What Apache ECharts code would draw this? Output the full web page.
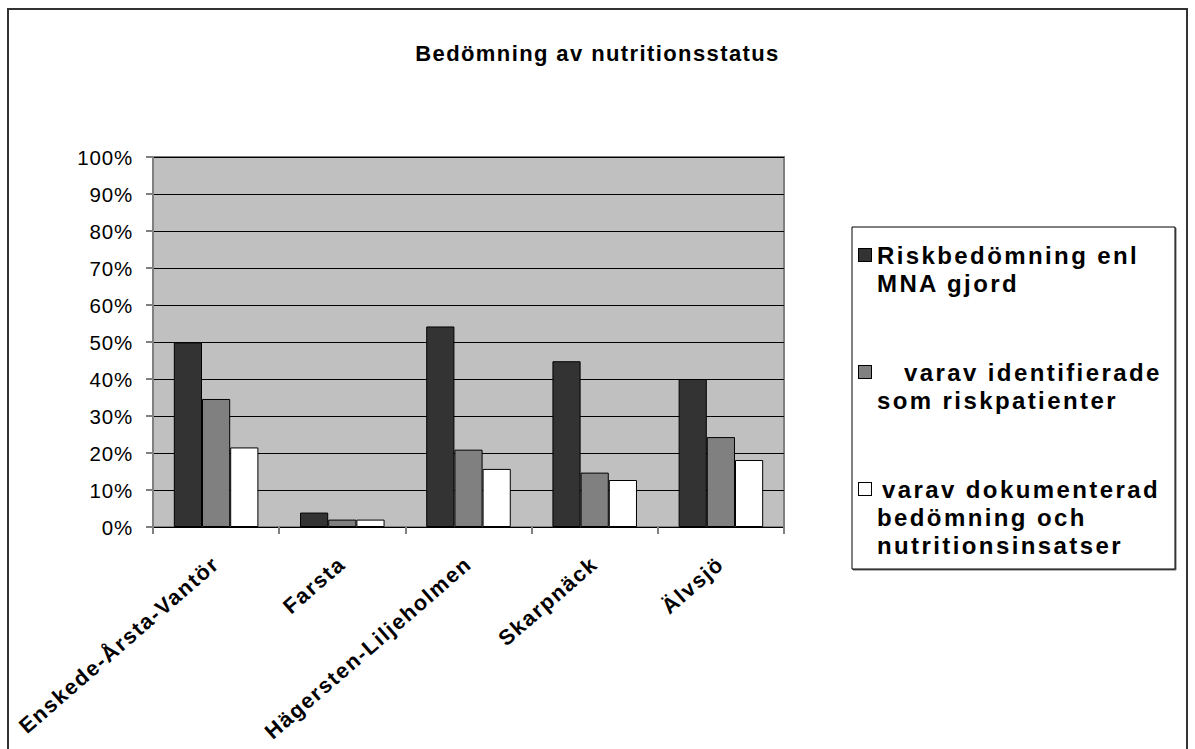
<!DOCTYPE html>
<html>
<head>
<meta charset="utf-8">
<title>Bedömning av nutritionsstatus</title>
<script src="https://cdn.jsdelivr.net/npm/echarts@6/dist/echarts.min.js"></script>
<style>
  html, body { margin: 0; padding: 0; background: #ffffff; }
  #chart { width: 1195px; height: 749px; }
  /* slightly wider tracking for the title, legend and axis labels */
  #chart text[style*="22px"] { letter-spacing: 1.4px; }
  #chart text[style*="24px"] { letter-spacing: 2.4px; }
  #chart text[style*="21.5px"] { letter-spacing: 1.6px; }
  #chart text[style*="20.5px"] { letter-spacing: 0.8px; }
</style>
</head>
<body>
<div id="chart"></div>
<script>
// Stadsdelar (x axis)
const categories = ['Enskede-Årsta-Vantör', 'Farsta', 'Hägersten-Liljeholmen', 'Skarpnäck', 'Älvsjö'];

// Andel i procent per stadsdel
const riskbedomning = [49.9, 3.9, 54.2, 44.8, 40.0];
const identifierade = [34.6, 2.0, 20.9, 14.7, 24.3];
const dokumenterad = [21.5, 2.0, 15.7, 12.7, 18.1];

// Series names and how they are broken into lines in the legend
const seriesNames = [
  'Riskbedömning enl MNA gjord',
  'varav identifierade som riskpatienter',
  'varav dokumenterad bedömning och nutritionsinsatser'
];
const legendLines = [
  ['Riskbedömning enl', 'MNA gjord'],
  ['varav identifierade', 'som riskpatienter'],
  ['varav dokumenterad', 'bedömning och', 'nutritionsinsatser']
];

// Y axis ticks
const yMin = 0, yMax = 100, yStep = 10;

const barColors = ['#333333', '#808080', '#ffffff'];
const firstLineIndent = [6, 33, 11];
const FONT = 'Arial, "Liberation Sans", sans-serif';

const chart = echarts.init(document.getElementById('chart'), null, { renderer: 'svg' });

function legendText(name) {
  const i = seriesNames.indexOf(name);
  return legendLines[i].map(function (line, k) {
    if (k === 0) return '{m' + i + '|}{g' + i + '|}' + line;
    return '{s|}' + line;
  }).join('\n');
}

const rich = { s: { width: 18, height: 13, lineHeight: 28 } };
barColors.forEach(function (c, i) {
  rich['m' + i] = { width: 12, height: 12, lineHeight: 28, backgroundColor: c, borderColor: '#000', borderWidth: 1 };
  rich['g' + i] = { width: firstLineIndent[i], height: 13, lineHeight: 28 };
});

const dataSets = [riskbedomning, identifierade, dokumenterad];

chart.setOption({
  animation: false,
  backgroundColor: '#ffffff',
  title: {
    text: 'Bedömning av nutritionsstatus',
    left: 'center',
    top: 42,
    padding: 0,
    textStyle: { fontFamily: FONT, fontSize: 22, fontWeight: 'bold', color: '#000' }
  },
  graphic: [
    {
      type: 'rect',
      shape: { x: 8, y: 9, width: 1179, height: 760 },
      style: { fill: 'none', stroke: '#333333', lineWidth: 2 },
      silent: true
    },
    {
      type: 'rect',
      shape: { x: 852, y: 227, width: 323, height: 342 },
      style: { fill: '#ffffff', stroke: '#000000', lineWidth: 1, shadowColor: 'rgba(0,0,0,0.6)', shadowOffsetX: 1, shadowOffsetY: 1, shadowBlur: 0 },
      silent: true,
      z: -1
    }
  ],
  legend: {
    orient: 'vertical',
    left: 854,
    top: 241,
    padding: 0,
    itemGap: 61,
    icon: 'none',
    itemWidth: 0,
    itemHeight: 14,
    selectedMode: false,
    formatter: legendText,
    textStyle: { fontFamily: FONT, fontSize: 24, fontWeight: 'bold', color: '#000', lineHeight: 28, rich: rich },
    data: seriesNames
  },
  grid: {
    left: 153, right: 411, top: 157, bottom: 222,
    show: true,
    backgroundColor: '#c0c0c0',
    borderColor: '#808080',
    borderWidth: 2
  },
  xAxis: {
    type: 'category',
    data: categories,
    boundaryGap: true,
    axisLine: { lineStyle: { color: '#000', width: 1 } },
    axisTick: { show: true, alignWithLabel: false, length: 7, lineStyle: { color: '#808080', width: 2 } },
    axisLabel: { rotate: 41, margin: 34, interval: 0, fontFamily: FONT, fontSize: 21.5, fontWeight: 'bold', color: '#000' },
    splitLine: { show: false }
  },
  yAxis: {
    type: 'value',
    min: yMin, max: yMax, interval: yStep,
    axisLine: { show: true, lineStyle: { color: '#808080', width: 2 } },
    axisTick: { show: true, length: 7, lineStyle: { color: '#808080', width: 2 } },
    axisLabel: { margin: 20, formatter: '{value}%', fontFamily: FONT, fontSize: 20.5, color: '#000' },
    splitLine: { show: true, lineStyle: { color: '#000', width: 1 } }
  },
  series: seriesNames.map(function (name, i) {
    return {
      name: name,
      type: 'bar',
      data: dataSets[i],
      barGap: '0%',
      barCategoryGap: '33%',
      itemStyle: { color: barColors[i], borderColor: '#000', borderWidth: 1 }
    };
  })
});
</script>
</body>
</html>
